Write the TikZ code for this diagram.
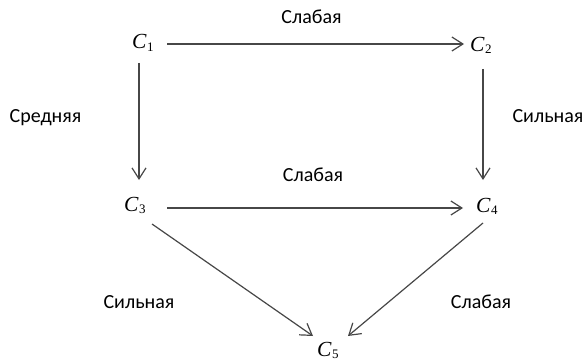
\documentclass[tikz,border=0pt]{standalone}
\usepackage{fontspec}
\setmainfont{Carlito}
\newfontfamily\cfont{Liberation Serif}
\usetikzlibrary{arrows.meta}
\newcommand{\cv}[1]{{\cfont\itshape C}\kern0.5pt\raisebox{-2pt}{\cfont\fontsize{13}{13}\selectfont #1}}
\tikzset{
  vert/.style={inner sep=0pt, anchor=base west, font=\fontsize{21.5}{24}\selectfont},
  lbl/.style={inner sep=0pt, anchor=base, font=\fontsize{20}{24}\selectfont},
  conn/.style={draw=black!72, line width=1.2pt, -{Straight Barb[length=11pt,width=14pt,line width=1.2pt]}}
}
\begin{document}
\begin{tikzpicture}[x=1pt,y=-1pt]
\useasboundingbox (0,0) rectangle (587,361);
\node[vert] (c1) at (132,49) {\cv{1}};
\node[vert] (c2) at (470,52) {\cv{2}};
\node[vert] (c3) at (124,211) {\cv{3}};
\node[vert] (c4) at (476,212) {\cv{4}};
\node[vert] (c5) at (317,356) {\cv{5}};
\coordinate (a1) at (167,44); \coordinate (a2) at (464,44);
\coordinate (b1) at (139,63); \coordinate (b2) at (139,180);
\coordinate (d1) at (483,69); \coordinate (d2) at (483,180);
\coordinate (e1) at (167,208); \coordinate (e2) at (463,208);
\coordinate (f1) at (152,224); \coordinate (f2) at (313,336);
\coordinate (g1) at (483,223); \coordinate (g2) at (348,336);
\draw[conn] (a1) -- (a2);
\draw[conn] (b1) -- (b2);
\draw[conn] (d1) -- (d2);
\draw[conn] (e1) -- (e2);
\draw[conn] (f1) -- (f2);
\draw[conn] (g1) -- (g2);
\node[lbl] (l1) at (311.5,24) {Слабая};
\node[lbl] (l2) at (45.5,122) {Средняя};
\node[lbl] (l3) at (548,122) {Сильная};
\node[lbl] (l4) at (313,181) {Слабая};
\node[lbl] (l5) at (139,308) {Сильная};
\node[lbl] (l6) at (481,308) {Слабая};
\end{tikzpicture}
\end{document}
